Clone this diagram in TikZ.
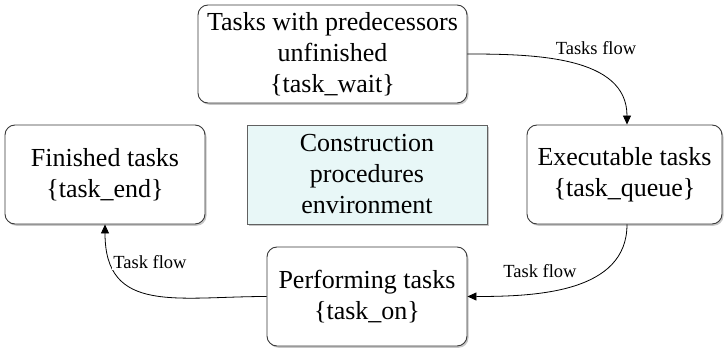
\documentclass[tikz,border=0pt]{standalone}
\usepackage{fontspec}
\setmainfont{Liberation Serif}
\usetikzlibrary{arrows.meta,shadows}
\definecolor{boxline}{HTML}{3A3A3A}
\definecolor{envfill}{HTML}{E8F7F7}
\tikzset{
  soft shadow/.style={drop shadow={shadow xshift=1.5pt,shadow yshift=-1.8pt,opacity=0.22,fill=black}},
  taskbox/.style={draw=boxline,line width=0.9pt,rounded corners=10pt,fill=white,soft shadow,
    align=center,inner sep=0pt,font=\fontsize{26}{31}\selectfont},
  envbox/.style={draw=boxline!80,line width=0.9pt,fill=envfill,soft shadow,
    align=center,inner sep=0pt,font=\fontsize{26}{31}\selectfont},
  flow/.style={line width=0.8pt,-{Triangle[length=9pt,width=8pt]}},
  flowlabel/.style={font=\fontsize{18.5}{20}\selectfont,inner sep=1.5pt}
}
\begin{document}
\begin{tikzpicture}[x=1pt,y=-1pt]
  \useasboundingbox (0,0) rectangle (724,350);

  % state boxes
  \node[taskbox,minimum width=269pt,minimum height=98pt] (wait) at (332.5,54)
    {Tasks with predecessors\\unfinished\\\{task\_wait\}};
  \node[taskbox,minimum width=200pt,minimum height=99pt] (finished) at (105,174.5)
    {Finished tasks\\\{task\_end\}};
  \node[envbox,minimum width=240pt,minimum height=99pt] (env) at (367,174.5)
    {Construction\\procedures\\environment};
  \node[taskbox,minimum width=195pt,minimum height=99pt] (queue) at (624.5,174.5)
    {Executable tasks\\\{task\_queue\}};
  \node[taskbox,minimum width=200pt,minimum height=99pt] (on) at (367,296.5)
    {Performing tasks\\\{task\_on\}};

  % task flow connectors
  \draw[flow] (wait.east) to[out=0,in=90] ([xshift=2.5pt]queue.north);
  \draw[flow] ([xshift=2.5pt]queue.south) to[out=-90,in=0] (on.east);
  \draw[flow] (on.west) to[out=180,in=-90,looseness=1.3] (finished.south);

  % connector labels
  \node[flowlabel,fill=white] (l1) at (596,48) {Tasks flow};
  \node[flowlabel] (l2) at (540,271) {Task flow};
  \node[flowlabel,fill=white] (l3) at (150,262) {Task flow};
\end{tikzpicture}
\end{document}
